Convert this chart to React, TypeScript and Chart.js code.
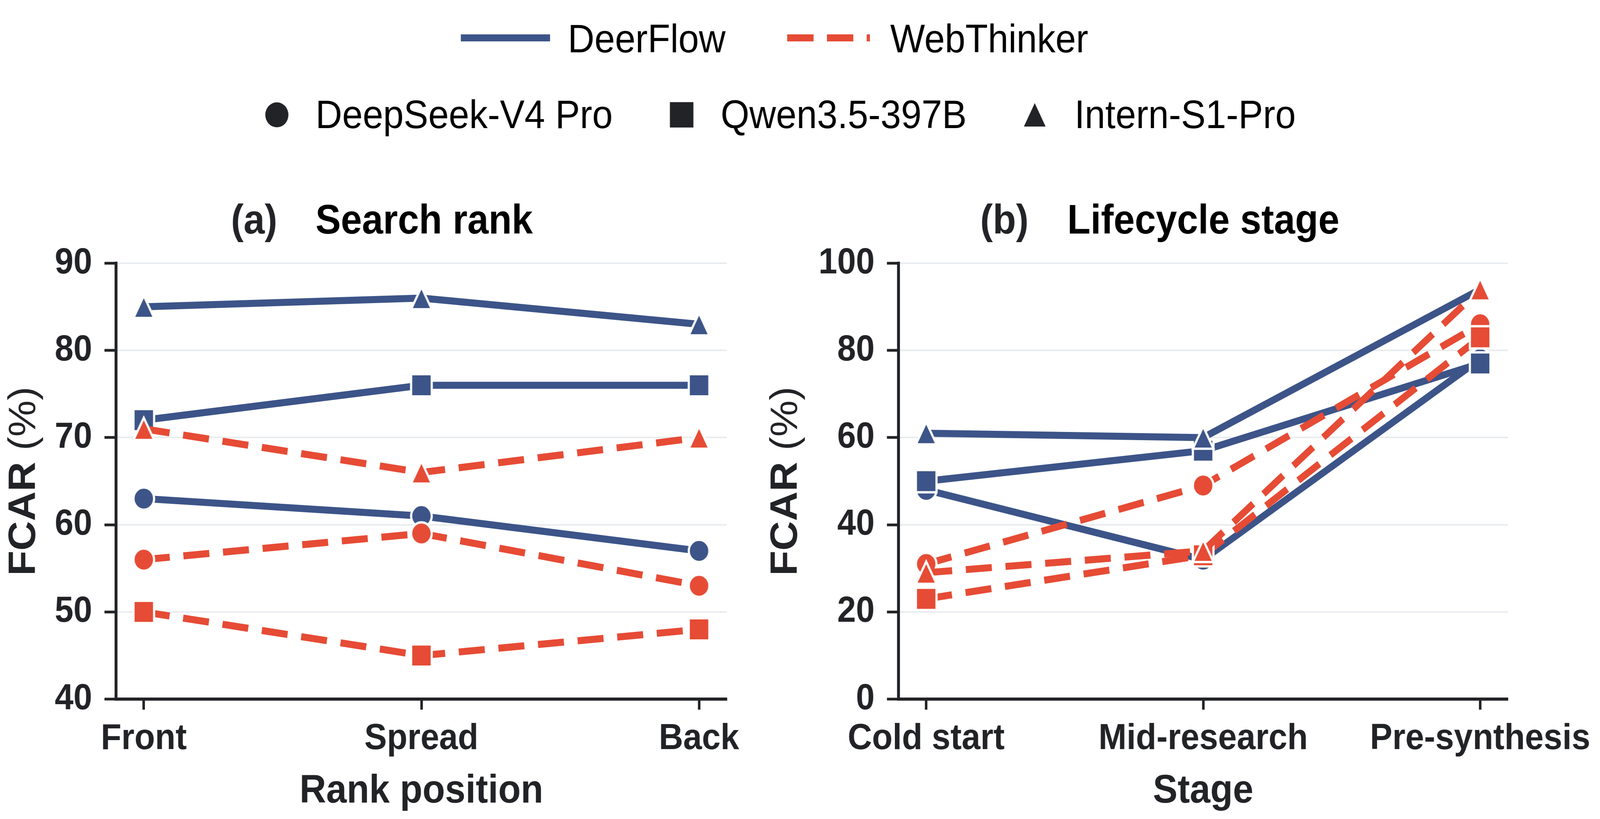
import React, { useEffect, useRef, useState } from "react";
import { Chart, registerables } from "chart.js";

Chart.register(...registerables);

// ---------- data ----------
const rankCategories = ["Front", "Spread", "Back"];
const stageCategories = ["Cold start", "Mid-research", "Pre-synthesis"];
const frameworks = ["DeerFlow", "WebThinker"];
const models = ["DeepSeek-V4 Pro", "Qwen3.5-397B", "Intern-S1-Pro"];

// Panel (a) Search rank
const rankDeerFlowDeepSeek = [63, 61, 57];
const rankDeerFlowQwen = [72, 76, 76];
const rankDeerFlowIntern = [85, 86, 83];
const rankWebThinkerDeepSeek = [56, 59, 53];
const rankWebThinkerQwen = [50, 45, 48];
const rankWebThinkerIntern = [71, 66, 70];

// Panel (b) Lifecycle stage
const stageDeerFlowDeepSeek = [48, 32, 78];
const stageDeerFlowQwen = [50, 57, 77];
const stageDeerFlowIntern = [61, 60, 94];
const stageWebThinkerDeepSeek = [31, 49, 86];
const stageWebThinkerQwen = [23, 33, 83];
const stageWebThinkerIntern = [29, 34, 94];

const rankYTicks = [40, 50, 60, 70, 80, 90];
const stageYTicks = [0, 20, 40, 60, 80, 100];

// ---------- style ----------
const W = 4427;
const H = 2097;
const FONT = '"Liberation Sans", Arial, Helvetica, sans-serif';
const BLUE = "#3C5488";
const RED = "#E64B35";
const INK = "#222326";
const GRID = "#e9ecef";
const DASH = [72, 38];
const TOP = 674;
const BOTTOM = 1790;
const YAXIS_W = 300;
const XAXIS_H = 250;

type Shape = "circle" | "square" | "triangle";
const shapes: Shape[] = ["circle", "square", "triangle"];

function shapePath(ctx: CanvasRenderingContext2D, shape: Shape, cx: number, cy: number, size: number) {
  const h = size / 2;
  ctx.beginPath();
  if (shape === "circle") {
    ctx.arc(cx, cy, h, 0, Math.PI * 2);
  } else if (shape === "square") {
    ctx.rect(cx - h, cy - h, size, size);
  } else {
    ctx.moveTo(cx, cy - h);
    ctx.lineTo(cx + h, cy + h);
    ctx.lineTo(cx - h, cy + h);
    ctx.closePath();
  }
}

function makeMarker(shape: Shape, color: string, size: number, edge: number) {
  const pad = edge + 6;
  const dim = Math.ceil(size + pad * 2);
  const c = document.createElement("canvas");
  c.width = dim;
  c.height = dim;
  const ctx = c.getContext("2d")!;
  shapePath(ctx, shape, dim / 2, dim / 2, size);
  ctx.fillStyle = color;
  ctx.fill();
  if (edge > 0) {
    ctx.lineWidth = edge;
    ctx.strokeStyle = "#ffffff";
    ctx.lineJoin = "miter";
    ctx.stroke();
  }
  return c;
}

interface PanelSpec {
  categories: string[];
  series: number[][]; // drawing order: DeerFlow x3, WebThinker x3
  yMin: number;
  yMax: number;
  yTicks: number[];
  left: number;
  right: number;
  tag: string;
  tagX: number;
  title: string;
  titleX: number;
  yLabelX: number;
  xLabel: string;
  drawLegend: boolean;
}

const panelA: PanelSpec = {
  categories: rankCategories,
  series: [
    rankDeerFlowDeepSeek,
    rankDeerFlowQwen,
    rankDeerFlowIntern,
    rankWebThinkerDeepSeek,
    rankWebThinkerQwen,
    rankWebThinkerIntern,
  ],
  yMin: 40,
  yMax: 90,
  yTicks: rankYTicks,
  left: 321,
  right: 2011,
  tag: "(a)",
  tagX: 639,
  title: "Search rank",
  titleX: 873,
  yLabelX: 97,
  xLabel: "Rank position",
  drawLegend: true,
};

const panelB: PanelSpec = {
  categories: stageCategories,
  series: [
    stageDeerFlowDeepSeek,
    stageDeerFlowQwen,
    stageDeerFlowIntern,
    stageWebThinkerDeepSeek,
    stageWebThinkerQwen,
    stageWebThinkerIntern,
  ],
  yMin: 0,
  yMax: 100,
  yTicks: stageYTicks,
  left: 2486,
  right: 4172,
  tag: "(b)",
  tagX: 2712,
  title: "Lifecycle stage",
  titleX: 2953,
  yLabelX: 2205,
  xLabel: "Stage",
  drawLegend: false,
};

function drawLegend(ctx: CanvasRenderingContext2D) {
  ctx.save();
  ctx.textBaseline = "alphabetic";
  ctx.textAlign = "left";
  ctx.font = `102px ${FONT}`;
  ctx.fillStyle = "#000000";
  // row 1: frameworks
  ctx.lineCap = "butt";
  ctx.lineWidth = 18;
  ctx.strokeStyle = BLUE;
  ctx.setLineDash([]);
  ctx.beginPath();
  ctx.moveTo(1275, 97);
  ctx.lineTo(1522, 97);
  ctx.stroke();
  ctx.fillText(frameworks[0], 1571, 134);
  ctx.strokeStyle = RED;
  ctx.setLineDash([73, 37]);
  ctx.beginPath();
  ctx.moveTo(2178, 97);
  ctx.lineTo(2407, 97);
  ctx.stroke();
  ctx.setLineDash([]);
  ctx.fillText(frameworks[1], 2463, 134);
  // row 2: models
  const markerX = [766, 1886, 2863];
  const markerSize = [64, 65, 60];
  const textX = [873, 1994, 2973];
  for (let i = 0; i < 3; i++) {
    shapePath(ctx, shapes[i], markerX[i], 294, markerSize[i]);
    ctx.fillStyle = INK;
    ctx.fill();
    ctx.fillStyle = "#000000";
    ctx.fillText(models[i], textX[i], 328);
  }
  ctx.restore();
}

function drawTexts(ctx: CanvasRenderingContext2D, p: PanelSpec, area: { left: number; right: number; top: number; bottom: number }) {
  ctx.save();
  ctx.textBaseline = "alphabetic";
  ctx.textAlign = "left";
  // title
  ctx.font = `bold 105px ${FONT}`;
  ctx.fillStyle = INK;
  ctx.fillText(p.tag, p.tagX, 598);
  ctx.fillStyle = "#000000";
  ctx.fillText(p.title, p.titleX, 598);
  // x label
  ctx.textAlign = "center";
  ctx.fillStyle = INK;
  ctx.font = `bold 102px ${FONT}`;
  ctx.fillText(p.xLabel, (area.left + area.right) / 2, 2055);
  // y label
  const cy = (area.top + area.bottom) / 2;
  ctx.translate(p.yLabelX, cy);
  ctx.rotate(-Math.PI / 2);
  ctx.textAlign = "left";
  const bold = `bold 105px ${FONT}`;
  const normal = `105px ${FONT}`;
  ctx.font = bold;
  const w1 = ctx.measureText("FCAR").width;
  ctx.font = normal;
  const w2 = ctx.measureText(" (%)").width;
  const sx = -(w1 + w2) / 2;
  ctx.font = bold;
  ctx.fillText("FCAR", sx, 0);
  ctx.font = normal;
  ctx.fillText(" (%)", sx + w1, 0);
  ctx.restore();
}

function buildChart(canvas: HTMLCanvasElement, p: PanelSpec) {
  const datasets = p.series.map((values, k) => {
    const fw = k < 3 ? 0 : 1;
    const m = k % 3;
    const color = fw === 0 ? BLUE : RED;
    return {
      label: `${frameworks[fw]} / ${models[m]}`,
      data: values.map((v, i) => ({ x: i, y: v })),
      borderColor: color,
      backgroundColor: color,
      borderWidth: 18,
      borderDash: fw === 0 ? [] : DASH,
      borderCapStyle: "butt" as const,
      borderJoinStyle: "round" as const,
      tension: 0,
      fill: false,
      pointStyle: makeMarker(shapes[m], color, 57, 6),
      pointRadius: 28,
      order: 10 - k,
    };
  });

  const tickFont = { family: FONT, size: 93, weight: "bold" as const };

  const textPlugin = {
    id: "panelTexts",
    beforeDraw(chart: any) {
      if (p.drawLegend) {
        const c = chart.ctx as CanvasRenderingContext2D;
        c.save();
        c.fillStyle = "#ffffff";
        c.fillRect(0, 0, chart.width, chart.height);
        c.restore();
      }
    },
    afterDraw(chart: any) {
      const c = chart.ctx as CanvasRenderingContext2D;
      if (p.drawLegend) drawLegend(c);
      drawTexts(c, p, chart.chartArea);
    },
  };

  return new Chart(canvas, {
    type: "line",
    data: { datasets: datasets as any },
    plugins: [textPlugin],
    options: {
      responsive: false,
      maintainAspectRatio: false,
      animation: false,
      devicePixelRatio: 1,
      events: [],
      layout: {
        padding: {
          left: p.left - YAXIS_W,
          right: W - p.right,
          top: TOP,
          bottom: H - BOTTOM - XAXIS_H,
        },
      },
      plugins: {
        legend: { display: false },
        tooltip: { enabled: false },
        title: { display: false },
      },
      scales: {
        x: {
          type: "linear",
          min: -0.1,
          max: 2.1,
          afterBuildTicks: (s: any) => {
            s.ticks = p.categories.map((_, i) => ({ value: i }));
          },
          afterFit: (s: any) => {
            s.height = XAXIS_H;
            s.paddingLeft = 0;
            s.paddingRight = 0;
          },
          ticks: {
            callback: (_v: any, i: number) => p.categories[i] ?? "",
            font: tickFont,
            color: INK,
            padding: 20,
            maxRotation: 0,
            minRotation: 0,
            autoSkip: false,
          },
          grid: {
            drawOnChartArea: false,
            drawTicks: true,
            tickLength: 27,
            tickWidth: 7,
            tickColor: INK,
          },
          border: { display: true, color: INK, width: 8 },
        },
        y: {
          type: "linear",
          min: p.yMin,
          max: p.yMax,
          afterBuildTicks: (s: any) => {
            s.ticks = p.yTicks.map((v) => ({ value: v }));
          },
          afterFit: (s: any) => {
            s.width = YAXIS_W;
            s.paddingTop = 0;
            s.paddingBottom = 0;
          },
          ticks: {
            font: tickFont,
            color: INK,
            padding: 34,
            autoSkip: false,
          },
          grid: {
            color: GRID,
            lineWidth: 4,
            tickLength: 32,
            tickWidth: 7,
            tickColor: INK,
          },
          border: { display: true, color: INK, width: 8 },
        },
      },
    } as any,
  });
}

function viewSize() {
  const vw = Math.min(window.innerWidth || W, W);
  const vh = Math.min(window.innerHeight || H, H);
  return { vw, vh };
}

export default function App() {
  const refA = useRef<HTMLCanvasElement>(null);
  const refB = useRef<HTMLCanvasElement>(null);
  const [{ vw, vh }] = useState(viewSize);

  useEffect(() => {
    const a = buildChart(refA.current!, panelA);
    const b = buildChart(refB.current!, panelB);
    return () => {
      a.destroy();
      b.destroy();
    };
  }, []);

  const canvasStyle: React.CSSProperties = {
    position: "absolute",
    left: 0,
    top: 0,
    width: vw,
    height: vh,
  };

  return (
    <div style={{ position: "fixed", left: 0, top: 0, width: vw, height: vh, background: "#ffffff" }}>
      <canvas ref={refA} width={W} height={H} style={canvasStyle} />
      <canvas ref={refB} width={W} height={H} style={canvasStyle} />
    </div>
  );
}
